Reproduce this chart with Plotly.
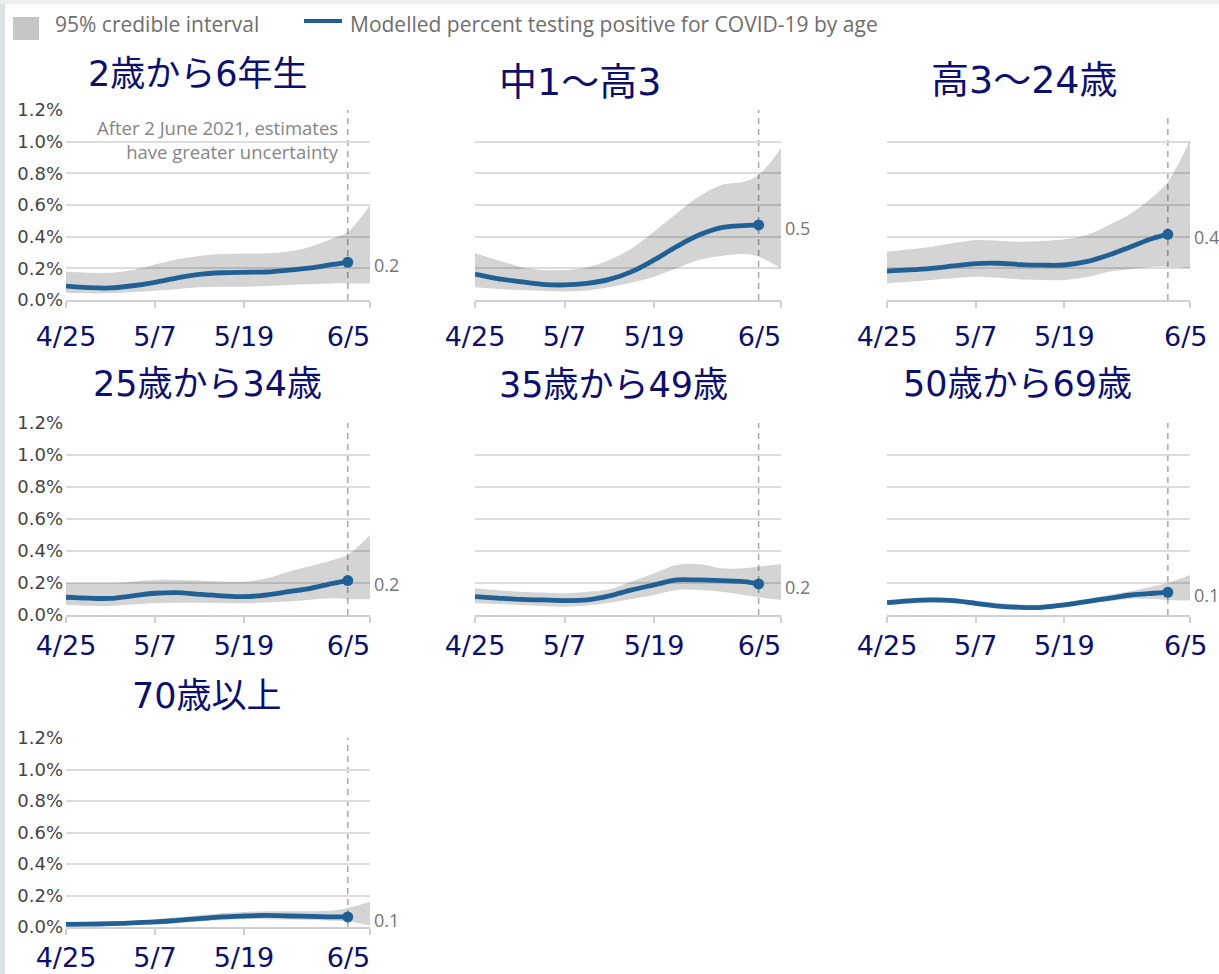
import plotly.graph_objects as go

W, H = 1219, 974

# ---------------- data ----------------
dates_line = ["2021-04-25", "2021-04-28", "2021-05-01", "2021-05-04", "2021-05-07",
              "2021-05-10", "2021-05-13", "2021-05-16", "2021-05-19", "2021-05-22",
              "2021-05-25", "2021-05-28", "2021-05-31", "2021-06-02"]
dates_band = dates_line + ["2021-06-05"]
uncertainty_date = "2021-06-02"

x_tick_vals = ["2021-04-25", "2021-05-07", "2021-05-19", "2021-06-05"]
x_tick_text = ["4/25", "5/7", "5/19", "6/5"]
y_tick_vals = [0.0, 0.2, 0.4, 0.6, 0.8, 1.0, 1.2]
y_tick_text = ["0.0%", "0.2%", "0.4%", "0.6%", "0.8%", "1.0%", "1.2%"]

titles = ["2歳から6年生", "中1～高3", "高3～24歳", "25歳から34歳",
          "35歳から49歳", "50歳から69歳", "70歳以上"]

line_2_6 = [0.088, 0.078, 0.076, 0.090, 0.112, 0.140, 0.162, 0.172, 0.175, 0.177, 0.188, 0.203, 0.225, 0.238]
upper_2_6 = [0.180, 0.172, 0.172, 0.190, 0.225, 0.258, 0.278, 0.290, 0.292, 0.295, 0.307, 0.337, 0.390, 0.430, 0.600]
lower_2_6 = [0.046, 0.043, 0.042, 0.050, 0.059, 0.070, 0.080, 0.083, 0.084, 0.088, 0.095, 0.100, 0.105, 0.105, 0.105]

line_y7_y11 = [0.164, 0.135, 0.116, 0.099, 0.095, 0.105, 0.130, 0.179, 0.253, 0.337, 0.410, 0.457, 0.470, 0.474]
upper_y7_y11 = [0.295, 0.253, 0.210, 0.190, 0.190, 0.206, 0.253, 0.326, 0.432, 0.547, 0.653, 0.726, 0.747, 0.790, 0.958]
lower_y7_y11 = [0.080, 0.070, 0.063, 0.058, 0.053, 0.060, 0.080, 0.110, 0.147, 0.200, 0.253, 0.278, 0.290, 0.274, 0.200]

line_y12_24 = [0.183, 0.190, 0.200, 0.215, 0.230, 0.232, 0.224, 0.220, 0.221, 0.242, 0.284, 0.337, 0.390, 0.415]
upper_y12_24 = [0.305, 0.320, 0.337, 0.360, 0.379, 0.375, 0.368, 0.372, 0.383, 0.410, 0.474, 0.547, 0.653, 0.747, 1.010]
lower_y12_24 = [0.105, 0.115, 0.126, 0.137, 0.147, 0.140, 0.130, 0.127, 0.126, 0.145, 0.179, 0.195, 0.210, 0.210, 0.200]

line_25_34 = [0.111, 0.105, 0.104, 0.120, 0.136, 0.140, 0.129, 0.120, 0.115, 0.125, 0.146, 0.167, 0.198, 0.215]
upper_25_34 = [0.200, 0.200, 0.200, 0.210, 0.219, 0.219, 0.215, 0.210, 0.209, 0.230, 0.271, 0.307, 0.344, 0.376, 0.500]
lower_25_34 = [0.063, 0.058, 0.056, 0.065, 0.073, 0.076, 0.077, 0.075, 0.073, 0.078, 0.084, 0.095, 0.104, 0.100, 0.098]

line_35_49 = [0.115, 0.106, 0.098, 0.094, 0.090, 0.094, 0.119, 0.157, 0.188, 0.219, 0.219, 0.215, 0.209, 0.194]
upper_35_49 = [0.167, 0.155, 0.146, 0.140, 0.136, 0.145, 0.161, 0.209, 0.261, 0.313, 0.319, 0.292, 0.292, 0.303, 0.319]
lower_35_49 = [0.073, 0.068, 0.063, 0.057, 0.052, 0.060, 0.077, 0.100, 0.125, 0.157, 0.157, 0.146, 0.125, 0.111, 0.094]

line_50_69 = [0.077, 0.088, 0.094, 0.090, 0.073, 0.056, 0.048, 0.048, 0.063, 0.084, 0.104, 0.125, 0.136, 0.142]
upper_50_69 = [0.094, 0.105, 0.110, 0.105, 0.090, 0.075, 0.065, 0.065, 0.080, 0.100, 0.125, 0.150, 0.180, 0.200, 0.250]
lower_50_69 = [0.060, 0.072, 0.077, 0.073, 0.058, 0.043, 0.035, 0.035, 0.048, 0.068, 0.088, 0.100, 0.100, 0.094, 0.090]

line_70 = [0.017, 0.018, 0.021, 0.026, 0.032, 0.042, 0.053, 0.064, 0.070, 0.074, 0.070, 0.068, 0.064, 0.064]
upper_70 = [0.030, 0.030, 0.033, 0.040, 0.050, 0.062, 0.075, 0.088, 0.095, 0.100, 0.100, 0.100, 0.105, 0.120, 0.160]
lower_70 = [0.008, 0.008, 0.010, 0.014, 0.018, 0.025, 0.035, 0.045, 0.050, 0.050, 0.048, 0.045, 0.040, 0.035, 0.010]

series = [
    (line_2_6, upper_2_6, lower_2_6),
    (line_y7_y11, upper_y7_y11, lower_y7_y11),
    (line_y12_24, upper_y12_24, lower_y12_24),
    (line_25_34, upper_25_34, lower_25_34),
    (line_35_49, upper_35_49, lower_35_49),
    (line_50_69, upper_50_69, lower_50_69),
    (line_70, upper_70, lower_70),
]

legend_band = "95% credible interval"
legend_line = "Modelled percent testing positive for COVID-19 by age"
note_text = "After 2 June 2021, estimates<br>have greater uncertainty"

# ---------------- styling / layout ----------------
BLUE = "#206095"
BAND = "rgba(0,0,0,0.17)"
GRID = "#dcdcdc"
NAVY = "#0c0f6e"
GREY_TXT = "#757575"
NBSP = "\u00a0"


def px(x):
    return x / W


def py(y):
    return 1 - y / H


# last tick label sits left of its tick in the original (kept inside the panel / page)
label_pad = [5, 5, 1]

cols = [(66, 370), (475, 781), (887, 1190)]
rows = [(110, 300), (423, 615), (738, 927)]
positions = [(0, 0), (0, 1), (0, 2), (1, 0), (1, 1), (1, 2), (2, 0)]
title_pos = [(198, 74, 35), (580, 82, 38), (1024, 80, 38), (207, 384, 35),
             (613, 385, 35), (1017, 384, 35), (207, 696, 35)]
standoff = [6, 0, 0]

fig = go.Figure()
layout = dict(width=W, height=H, margin=dict(l=0, r=0, t=0, b=0, autoexpand=False),
              paper_bgcolor="white", plot_bgcolor="white", showlegend=False)
shapes = []
annotations = []

for i, ((r, c), (ln, up, lo)) in enumerate(zip(positions, series)):
    n = i + 1
    xa = "x" if n == 1 else f"x{n}"
    ya = "y" if n == 1 else f"y{n}"
    fig.add_trace(go.Scatter(x=dates_band, y=up, mode="lines", line=dict(width=0, shape="spline", color=BAND),
                             xaxis=xa, yaxis=ya, hoverinfo="skip", name=legend_band))
    fig.add_trace(go.Scatter(x=dates_band, y=lo, mode="lines", line=dict(width=0, shape="spline", color=BAND),
                             fill="tonexty", fillcolor=BAND, xaxis=xa, yaxis=ya, hoverinfo="skip",
                             name=legend_band))
    fig.add_trace(go.Scatter(x=dates_line, y=ln, mode="lines", line=dict(width=4.8, shape="spline", color=BLUE),
                             xaxis=xa, yaxis=ya, name=legend_line))
    fig.add_trace(go.Scatter(x=dates_line[-1:], y=ln[-1:], mode="markers",
                             marker=dict(size=11, color=BLUE), xaxis=xa, yaxis=ya, name=legend_line))

    x0, x1 = cols[c]
    y0, y1 = rows[r]
    tick_display = x_tick_text[:-1] + [x_tick_text[-1] + NBSP * label_pad[c]]
    layout["xaxis" if n == 1 else f"xaxis{n}"] = dict(
        domain=[px(x0), px(x1)], anchor=ya, type="date", automargin=False,
        range=[dates_band[0], dates_band[-1]],
        tickvals=x_tick_vals, ticktext=tick_display, ticklabeloverflow="allow",
        showgrid=False, zeroline=False, showline=True, linecolor="#d0d0d0", linewidth=1.5,
        ticks="outside", ticklen=6, tickwidth=1.5, tickcolor="#d0d0d0",
        ticklabelstandoff=standoff[r],
        tickfont=dict(family="DejaVu Sans", size=27, color=NAVY),
    )
    layout["yaxis" if n == 1 else f"yaxis{n}"] = dict(
        domain=[py(y1), py(y0)], anchor=xa, range=[0, 1.2], automargin=False,
        tickvals=y_tick_vals, ticktext=y_tick_text, showticklabels=(c == 0),
        showgrid=True, gridcolor=GRID, gridwidth=1.5, zeroline=False, showline=False,
        ticks="", ticklabelstandoff=2,
        tickfont=dict(family="DejaVu Sans", size=18, color="#444444"),
    )
    # dashed line marking uncertainty start
    shapes.append(dict(type="line", xref=xa, yref=f"{ya} domain", x0=uncertainty_date, x1=uncertainty_date,
                       y0=0, y1=1, line=dict(color="#a8a8a8", width=1.5, dash="6px,5px"), layer="below"))
    # end value label
    annotations.append(dict(xref=xa, yref=ya, x=dates_band[-1], y=ln[-1], text=f"{round(ln[-1], 1)}",
                            showarrow=False, xanchor="left", xshift=2, yshift=-3,
                            font=dict(family="Open Sans", size=18, color=GREY_TXT)))
    # title
    tx, ty, ts = title_pos[i]
    annotations.append(dict(xref="paper", yref="paper", x=px(tx), y=py(ty), text=titles[i],
                            showarrow=False, xanchor="center", yanchor="middle",
                            font=dict(family="DejaVu Sans, Noto Sans CJK JP", size=ts, color=NAVY)))

# note in first panel
annotations.append(dict(xref="x", yref="y domain", x=uncertainty_date, y=0.985, text=note_text,
                        showarrow=False, xanchor="right", yanchor="top", align="right", xshift=-7,
                        font=dict(family="Open Sans", size=18.5, color="#858585")))

# white boxes where the pasted titles hide the top gridline
shapes.append(dict(type="rect", xref="paper", yref="paper", x0=px(472), x1=px(722), y0=py(114), y1=py(95),
                   fillcolor="white", line=dict(width=0), layer="above"))
shapes.append(dict(type="rect", xref="paper", yref="paper", x0=px(884), x1=px(1195), y0=py(114), y1=py(95),
                   fillcolor="white", line=dict(width=0), layer="above"))

# page edges
shapes.append(dict(type="rect", xref="paper", yref="paper", x0=0, x1=px(5), y0=0, y1=1,
                   fillcolor="#dde3e3", line=dict(width=0), layer="above"))
shapes.append(dict(type="rect", xref="paper", yref="paper", x0=0, x1=1, y0=py(4), y1=1,
                   fillcolor="#efefed", line=dict(width=0), layer="above"))

# legend (drawn)
shapes.append(dict(type="rect", xref="paper", yref="paper", x0=px(13), x1=px(39), y0=py(40), y1=py(17),
                   fillcolor="#c6c6c6", line=dict(width=0)))
shapes.append(dict(type="line", xref="paper", yref="paper", x0=px(304), x1=px(342), y0=py(21), y1=py(21),
                   line=dict(color=BLUE, width=4)))
annotations.append(dict(xref="paper", yref="paper", x=px(53), y=py(24), text=legend_band, showarrow=False,
                        xanchor="left", yanchor="middle", font=dict(family="Open Sans", size=21, color="#6e6e6e")))
annotations.append(dict(xref="paper", yref="paper", x=px(348), y=py(24), text=legend_line, showarrow=False,
                        xanchor="left", yanchor="middle", font=dict(family="Open Sans", size=21, color="#6e6e6e")))

layout["shapes"] = shapes
layout["annotations"] = annotations
fig.update_layout(**layout)
fig.write_html("out.html")
